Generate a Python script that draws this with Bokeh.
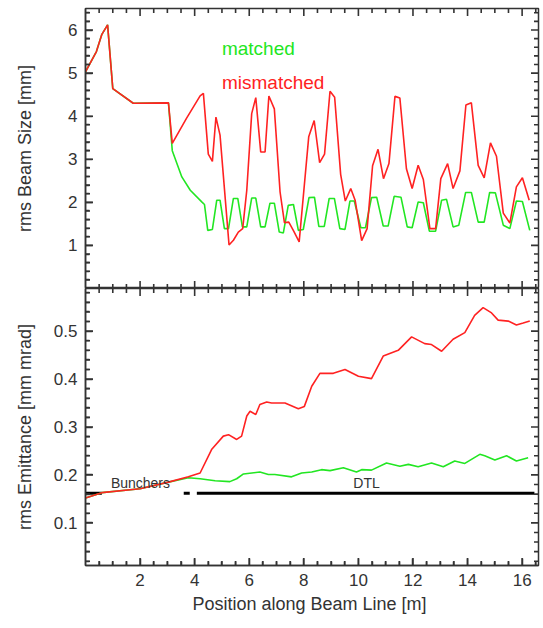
import numpy as np
from bokeh.plotting import figure
from bokeh.layouts import column
from bokeh.models import Range1d, FixedTicker, Label
from bokeh.embed import file_html
from bokeh.resources import INLINE

# ---------------- data ----------------
# rms beam size [mm] vs position [m]
size_mis_x = [0.0, 0.4, 0.6, 0.81, 1.0, 1.75, 3.04, 3.18, 3.7, 4.2, 4.32, 4.50, 4.65, 4.78, 4.93,
              5.26, 5.42, 5.60, 5.76, 5.91, 6.09, 6.24, 6.42, 6.58, 6.72, 6.92, 7.13, 7.29, 7.45,
              7.63, 7.83, 8.18, 8.38, 8.58, 8.76, 8.96, 9.13, 9.35, 9.52, 9.72, 9.88, 10.12, 10.32,
              10.52, 10.72, 10.92, 11.12, 11.34, 11.52, 11.76, 11.97, 12.19, 12.38, 12.62, 12.83,
              13.02, 13.27, 13.47, 13.72, 13.94, 14.14, 14.39, 14.61, 14.84, 15.06, 15.31, 15.55,
              15.79, 16.01, 16.26]
size_mis_y = [5.03, 5.5, 5.9, 6.12, 4.64, 4.3, 4.31, 3.37, 3.95, 4.47, 4.53, 3.12, 2.95, 3.98, 3.56,
              1.01, 1.12, 1.31, 1.39, 2.28, 4.06, 4.43, 3.17, 3.17, 4.47, 4.17, 2.24, 1.53, 1.54,
              1.33, 1.08, 3.52, 3.90, 2.92, 3.12, 4.58, 4.44, 2.65, 2.03, 2.32, 2.05, 1.11, 1.39,
              2.85, 3.23, 2.55, 2.90, 4.46, 4.42, 2.78, 2.32, 2.86, 2.53, 1.39, 1.39,
              2.55, 2.90, 2.32, 2.73, 4.26, 4.31, 2.86, 2.57, 3.38, 3.07, 1.75, 1.52,
              2.36, 2.57, 2.05]

size_mat_x = [0.0, 0.4, 0.6, 0.81, 1.0, 1.75, 3.04, 3.18, 3.35, 3.53, 3.84, 4.26, 4.36, 4.48, 4.65,
              4.81, 4.93, 5.09, 5.24, 5.42, 5.58, 5.75, 5.91, 6.09, 6.24, 6.42, 6.58, 6.76, 6.92,
              7.10, 7.25, 7.43, 7.62, 7.80, 7.98, 8.19, 8.39, 8.55, 8.75, 8.93, 9.12, 9.32, 9.51,
              9.69, 9.85, 10.09, 10.26, 10.48, 10.67, 10.91, 11.09, 11.31, 11.56, 11.79, 11.97,
              12.19, 12.38, 12.60, 12.83, 13.05, 13.23, 13.47, 13.68, 13.93, 14.14, 14.39, 14.61,
              14.81, 15.02, 15.31, 15.55, 15.79, 16.01, 16.28]
size_mat_y = [5.03, 5.5, 5.9, 6.12, 4.64, 4.3, 4.31, 3.2, 2.90, 2.59, 2.28, 2.01, 1.95, 1.35, 1.37,
              2.05, 2.05, 1.39, 1.39, 2.09, 2.09, 1.43, 1.43, 2.10, 2.10, 1.43, 1.43, 1.98, 1.98,
              1.31, 1.29, 1.93, 1.95, 1.35, 1.37, 2.11, 2.12, 1.44, 1.44, 2.09, 2.09, 1.39, 1.37,
              2.03, 2.03, 1.41, 1.41, 2.11, 2.12, 1.45, 1.45, 2.14, 2.12, 1.43, 1.41,
              2.01, 1.99, 1.33, 1.33, 2.05, 2.07, 1.43, 1.47, 2.23, 2.23, 1.54, 1.54,
              2.23, 2.22, 1.47, 1.39, 2.03, 2.02, 1.35]

# rms emittance [mm mrad] vs position [m]
emit_mis_x = [0.0, 0.6, 2.0, 3.04, 3.77, 4.2, 4.62, 5.05, 5.24, 5.54, 5.72, 5.91, 6.03, 6.24, 6.39,
              6.64, 6.82, 7.31, 7.80, 8.02, 8.29, 8.59, 9.08, 9.51, 10.0, 10.48, 10.91, 11.46, 11.95,
              12.43, 12.68, 13.05, 13.47, 13.90, 14.26, 14.57, 14.88, 15.12, 15.49, 15.79, 16.04, 16.28]
emit_mis_y = [0.152, 0.163, 0.171, 0.185, 0.196, 0.204, 0.253, 0.281, 0.284, 0.274, 0.281, 0.323,
              0.333, 0.326, 0.347, 0.352, 0.350, 0.350, 0.338, 0.343, 0.385, 0.412, 0.412, 0.420,
              0.406, 0.401, 0.448, 0.460, 0.488, 0.474, 0.472, 0.458, 0.483, 0.497, 0.533, 0.549,
              0.538, 0.523, 0.521, 0.513, 0.517, 0.521]

emit_mat_x = [0.0, 0.6, 2.0, 3.04, 3.77, 4.2, 4.75, 5.29, 5.54, 5.79, 6.39, 6.70, 6.94, 7.55, 7.92,
              8.29, 8.65, 8.96, 9.45, 9.93, 10.12, 10.48, 11.03, 11.52, 11.83, 12.19, 12.68, 13.11,
              13.53, 13.90, 14.45, 14.63, 15.0, 15.43, 15.79, 16.22]
emit_mat_y = [0.152, 0.163, 0.171, 0.185, 0.194, 0.192, 0.188, 0.186, 0.192, 0.202, 0.206, 0.201,
              0.201, 0.196, 0.204, 0.206, 0.211, 0.209, 0.215, 0.206, 0.211, 0.210, 0.225, 0.218,
              0.222, 0.217, 0.225, 0.217, 0.229, 0.224, 0.243, 0.240, 0.231, 0.240, 0.229, 0.236]

# beam line elements (start, end in m)
element_start = [0.0, 3.60, 4.08]
element_end = [0.60, 3.82, 16.45]
element_level = [0.162, 0.162, 0.162]

x_ticks = [2, 4, 6, 8, 10, 12, 14, 16]
size_ticks = [1, 2, 3, 4, 5, 6]
emit_ticks = [0.1, 0.2, 0.3, 0.4, 0.5]

# ---------------- styling ----------------
FONT = "Liberation Sans"
AX = "#333333"
TXT = "#333333"
RED = "#ff2222"
GREEN = "#22e622"
FW = 453

x_minor = [float(v) for v in np.arange(0.5, 16.6, 0.5) if v % 2]
size_minor = [float(v) for v in np.round(np.arange(0.2, 6.5, 0.2), 2) if abs(v - round(v)) > 1e-6]
emit_minor = [float(v) for v in np.round(np.arange(0.02, 0.59, 0.02), 3)
              if abs(v * 10 - round(v * 10)) > 1e-6]


def style(ax):
    ax.axis_line_color = AX
    ax.axis_line_width = 1.5
    ax.major_tick_line_color = AX
    ax.major_tick_line_width = 1.5
    ax.minor_tick_line_color = AX
    ax.minor_tick_line_width = 1.5
    ax.major_tick_in = 7
    ax.major_tick_out = 0
    ax.minor_tick_in = 4
    ax.minor_tick_out = 0
    ax.axis_label_text_font = FONT
    ax.axis_label_text_font_style = "normal"
    ax.axis_label_text_font_size = "18px"
    ax.axis_label_text_color = TXT
    ax.major_label_text_font = FONT
    ax.major_label_text_color = TXT
    ax.major_label_text_font_size = "17px"
    ax.major_label_standoff = 8


def frame_ticks(p, xmaj, xmin, ymaj, ymin):
    """Inward tick marks on all four frame sides, as filled screen-sized bars
    centred on the frame edge (the outer half is clipped by the frame)."""
    x0, x1 = float(p.x_range.start), float(p.x_range.end)
    y0, y1 = float(p.y_range.start), float(p.y_range.end)
    for vals, L in ((xmaj, 15), (xmin, 9)):
        n = len(vals)
        p.rect(x=[float(v) for v in vals] * 2, y=[y0] * n + [y1] * n,
               width=1.6, height=L, width_units="screen", height_units="screen",
               fill_color=AX, line_color=None)
    for vals, L in ((ymaj, 15), (ymin, 9)):
        n = len(vals)
        p.rect(x=[x0] * n + [x1] * n, y=[float(v) for v in vals] * 2,
               width=L, height=1.6, width_units="screen", height_units="screen",
               fill_color=AX, line_color=None)


xr = Range1d(0, 16.6)

# ---- top panel ----
H1 = 280
p1 = figure(x_range=xr, y_range=Range1d(0, 6.5), frame_width=FW, frame_height=H1,
            output_backend="svg", toolbar_location=None,
            min_border_left=85, min_border_right=3, min_border_top=8, min_border_bottom=0)
p1.grid.visible = False
p1.outline_line_color = AX
p1.outline_line_width = 1.5
p1.xaxis.visible = False
p1.yaxis.ticker = FixedTicker(ticks=size_ticks, minor_ticks=size_minor)
style(p1.yaxis[0])
p1.yaxis.axis_label = "rms Beam Size [mm]"
p1.yaxis.axis_label_standoff = 30

p1.line(size_mat_x, size_mat_y, line_color=GREEN, line_width=1.6)
p1.line(size_mis_x, size_mis_y, line_color=RED, line_width=1.6)
frame_ticks(p1, x_ticks, x_minor, size_ticks, size_minor)
p1.add_layout(Label(x=5.0, y=5.58, text="matched", text_color=GREEN, text_font=FONT,
                    text_font_size="19px", text_baseline="middle"))
p1.add_layout(Label(x=5.0, y=4.79, text="mismatched", text_color=RED, text_font=FONT,
                    text_font_size="19px", text_baseline="middle"))

# ---- bottom panel ----
H2 = 277
p2 = figure(x_range=xr, y_range=Range1d(0.011, 0.589), frame_width=FW, frame_height=H2,
            output_backend="svg", toolbar_location=None,
            min_border_left=85, min_border_right=3, min_border_top=0, min_border_bottom=0)
p2.grid.visible = False
p2.outline_line_color = AX
p2.outline_line_width = 1.5
p2.xaxis.ticker = FixedTicker(ticks=x_ticks, minor_ticks=x_minor)
p2.yaxis.ticker = FixedTicker(ticks=emit_ticks, minor_ticks=emit_minor)
style(p2.xaxis[0])
style(p2.yaxis[0])
p2.xaxis.axis_label = "Position along Beam Line  [m]"
p2.xaxis.axis_label_standoff = 5
p2.yaxis.axis_label = "rms Emittance [mm mrad]"
p2.yaxis.axis_label_standoff = 16

p2.segment(x0=element_start, y0=element_level, x1=element_end, y1=element_level,
           line_color="black", line_width=3)
p2.line(emit_mat_x, emit_mat_y, line_color=GREEN, line_width=1.6)
p2.line(emit_mis_x, emit_mis_y, line_color=RED, line_width=1.6)
frame_ticks(p2, x_ticks, x_minor, emit_ticks, emit_minor)
p2.add_layout(Label(x=0.93, y=0.184, text="Bunchers", text_color=TXT, text_font=FONT,
                    text_font_size="14px", text_baseline="middle"))
p2.add_layout(Label(x=10.3, y=0.183, text="DTL", text_color=TXT, text_font=FONT,
                    text_font_size="14px", text_baseline="middle", text_align="center"))

layout = column(p1, p2, spacing=0)
open("out.html", "w").write(file_html(layout, INLINE))
